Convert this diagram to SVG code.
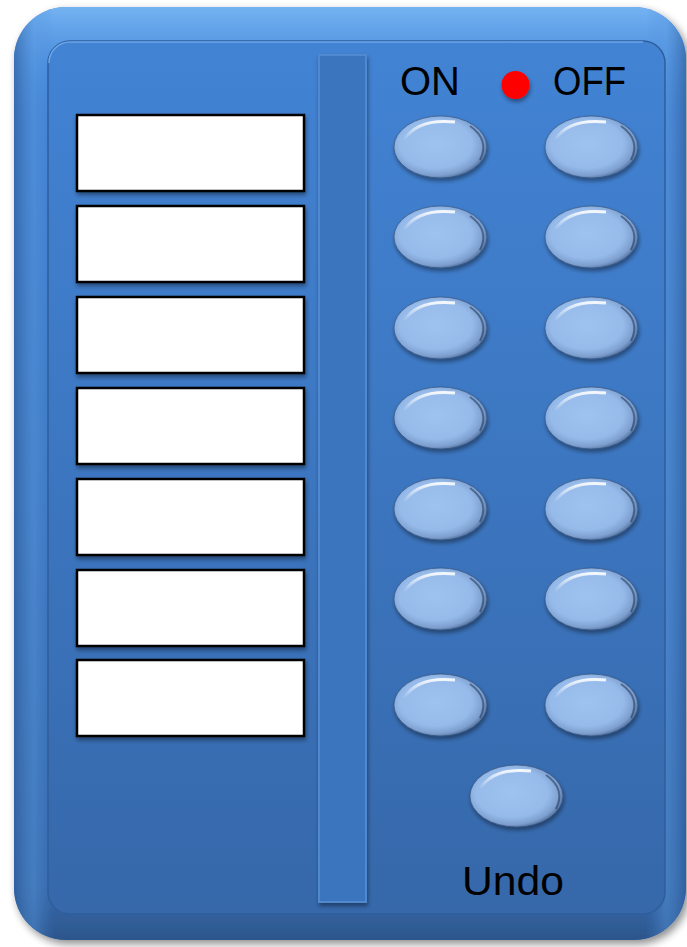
<svg xmlns="http://www.w3.org/2000/svg" width="687" height="947" viewBox="0 0 687 947">
<defs>
<linearGradient id="bodyG" x1="0" y1="0" x2="0" y2="1">
<stop offset="0" stop-color="#4486d8"/>
<stop offset="0.5" stop-color="#3e78c2"/>
<stop offset="1" stop-color="#3566a6"/>
</linearGradient>
<linearGradient id="rimTop" x1="0" y1="0" x2="0" y2="1">
<stop offset="0" stop-color="#7ab8f5" stop-opacity="0.9"/>
<stop offset="0.06" stop-color="#5a9ce6" stop-opacity="0.5"/>
<stop offset="0.12" stop-color="#4a8ad9" stop-opacity="0"/>
<stop offset="0.94" stop-color="#2f5d98" stop-opacity="0"/>
<stop offset="1" stop-color="#2a5184" stop-opacity="0.8"/>
</linearGradient>
<linearGradient id="rimSide" x1="0" y1="0" x2="1" y2="0">
<stop offset="0" stop-color="#2d5a98" stop-opacity="0.6"/>
<stop offset="0.03" stop-color="#5b9be2" stop-opacity="0.4"/>
<stop offset="0.06" stop-color="#4a8ad9" stop-opacity="0"/>
<stop offset="0.94" stop-color="#4a8ad9" stop-opacity="0"/>
<stop offset="0.97" stop-color="#5b9be2" stop-opacity="0.4"/>
<stop offset="1" stop-color="#2d5a98" stop-opacity="0.6"/>
</linearGradient>
<linearGradient id="panelG" x1="0" y1="0" x2="0" y2="1">
<stop offset="0" stop-color="#4283d4"/>
<stop offset="0.5" stop-color="#3c76c0"/>
<stop offset="1" stop-color="#3668aa"/>
</linearGradient>
<radialGradient id="btnG" cx="0.45" cy="0.45" r="0.6">
<stop offset="0" stop-color="#9fc3f0"/>
<stop offset="0.65" stop-color="#96bbea"/>
<stop offset="0.85" stop-color="#7d9fcf"/>
<stop offset="1" stop-color="#3d5a85"/>
</radialGradient>
<linearGradient id="btnHi" x1="0" y1="0" x2="0" y2="1">
<stop offset="0" stop-color="#ffffff" stop-opacity="0.9"/>
<stop offset="1" stop-color="#ffffff" stop-opacity="0"/>
</linearGradient>
<filter id="shadow" x="-10%" y="-10%" width="125%" height="125%">
<feGaussianBlur in="SourceAlpha" stdDeviation="4"/>
<feOffset dx="3" dy="4"/>
<feComponentTransfer><feFuncA type="linear" slope="0.45"/></feComponentTransfer>
<feMerge><feMergeNode/><feMergeNode in="SourceGraphic"/></feMerge>
</filter>
<filter id="smallShadow" x="-20%" y="-20%" width="150%" height="160%">
<feGaussianBlur in="SourceAlpha" stdDeviation="2"/>
<feOffset dx="1" dy="3"/>
<feComponentTransfer><feFuncA type="linear" slope="0.4"/></feComponentTransfer>
<feMerge><feMergeNode/><feMergeNode in="SourceGraphic"/></feMerge>
</filter>
<style>
.slot{fill:#ffffff;stroke:#000000;stroke-width:2.5}
.btn{fill:url(#btnG);stroke:#2e4a72;stroke-width:1;stroke-opacity:0.6}
.hi{fill:none;stroke:url(#btnHi);stroke-width:3}
.rim{fill:none;stroke:#1f3556;stroke-width:2;stroke-opacity:0.55}
.lbl{font-family:"Liberation Sans",Arial,sans-serif;font-size:40px;fill:#000000}
</style>
</defs>

<g id="body" filter="url(#shadow)">
<rect x="14" y="7" width="672" height="933" rx="52" ry="52" fill="url(#bodyG)"/>
<rect x="14" y="7" width="672" height="933" rx="52" ry="52" fill="url(#rimTop)"/>
<rect x="14" y="7" width="672" height="933" rx="52" ry="52" fill="url(#rimSide)"/>
</g>
<g id="panel">
<rect x="48" y="41" width="617" height="873" rx="22" ry="22" fill="url(#panelG)" stroke="#2f5e9c" stroke-width="1.5"/>
<path d="M49 63 A21 21 0 0 1 70 42 H643" fill="none" stroke="#6aa5ea" stroke-width="1.5"/>
</g>

<g id="divider" filter="url(#smallShadow)">
<rect x="319" y="55" width="47" height="847" fill="#3b74bd" stroke="#5189d0" stroke-width="2"/>
</g>

<g id="slots" filter="url(#smallShadow)">
<rect id="slot1" class="slot" x="77" y="115" width="227" height="76"/>
<rect id="slot2" class="slot" x="77" y="206" width="227" height="76"/>
<rect id="slot3" class="slot" x="77" y="297" width="227" height="76"/>
<rect id="slot4" class="slot" x="77" y="388" width="227" height="76"/>
<rect id="slot5" class="slot" x="77" y="479" width="227" height="76"/>
<rect id="slot6" class="slot" x="77" y="570" width="227" height="76"/>
<rect id="slot7" class="slot" x="77" y="660" width="227" height="76"/>
</g>

<g id="labels">
<text class="lbl" x="400" y="95" textLength="60">ON</text>
<text class="lbl" x="553" y="95" textLength="73" lengthAdjust="spacingAndGlyphs">OFF</text>
<text class="lbl" x="462" y="895" font-size="41" textLength="102" lengthAdjust="spacingAndGlyphs">Undo</text>
</g>

<g id="led" filter="url(#smallShadow)">
<circle cx="515.5" cy="85" r="14" fill="#ff0000"/>
</g>

<g id="buttons" filter="url(#smallShadow)">
<g id="on1"><ellipse class="btn" cx="440.5" cy="147" rx="46.5" ry="31"/><path class="hi" d="M404 140 Q418 118 455 122"/><path class="rim" d="M470 126 Q490 140 480 160"/></g>
<g id="off1"><ellipse class="btn" cx="591.5" cy="147" rx="46.5" ry="31"/><path class="hi" d="M555 140 Q569 118 606 122"/><path class="rim" d="M621 126 Q641 140 631 160"/></g>
<g id="on2"><ellipse class="btn" cx="440.5" cy="237" rx="46.5" ry="31"/><path class="hi" d="M404 230 Q418 208 455 212"/><path class="rim" d="M470 216 Q490 230 480 250"/></g>
<g id="off2"><ellipse class="btn" cx="591.5" cy="237" rx="46.5" ry="31"/><path class="hi" d="M555 230 Q569 208 606 212"/><path class="rim" d="M621 216 Q641 230 631 250"/></g>
<g id="on3"><ellipse class="btn" cx="440.5" cy="328" rx="46.5" ry="31"/><path class="hi" d="M404 321 Q418 299 455 303"/><path class="rim" d="M470 307 Q490 321 480 341"/></g>
<g id="off3"><ellipse class="btn" cx="591.5" cy="328" rx="46.5" ry="31"/><path class="hi" d="M555 321 Q569 299 606 303"/><path class="rim" d="M621 307 Q641 321 631 341"/></g>
<g id="on4"><ellipse class="btn" cx="440.5" cy="418" rx="46.5" ry="31"/><path class="hi" d="M404 411 Q418 389 455 393"/><path class="rim" d="M470 397 Q490 411 480 431"/></g>
<g id="off4"><ellipse class="btn" cx="591.5" cy="418" rx="46.5" ry="31"/><path class="hi" d="M555 411 Q569 389 606 393"/><path class="rim" d="M621 397 Q641 411 631 431"/></g>
<g id="on5"><ellipse class="btn" cx="440.5" cy="509" rx="46.5" ry="31"/><path class="hi" d="M404 502 Q418 480 455 484"/><path class="rim" d="M470 488 Q490 502 480 522"/></g>
<g id="off5"><ellipse class="btn" cx="591.5" cy="509" rx="46.5" ry="31"/><path class="hi" d="M555 502 Q569 480 606 484"/><path class="rim" d="M621 488 Q641 502 631 522"/></g>
<g id="on6"><ellipse class="btn" cx="440.5" cy="599" rx="46.5" ry="31"/><path class="hi" d="M404 592 Q418 570 455 574"/><path class="rim" d="M470 578 Q490 592 480 612"/></g>
<g id="off6"><ellipse class="btn" cx="591.5" cy="599" rx="46.5" ry="31"/><path class="hi" d="M555 592 Q569 570 606 574"/><path class="rim" d="M621 578 Q641 592 631 612"/></g>
<g id="on7"><ellipse class="btn" cx="440.5" cy="705" rx="46.5" ry="31"/><path class="hi" d="M404 698 Q418 676 455 680"/><path class="rim" d="M470 684 Q490 698 480 718"/></g>
<g id="off7"><ellipse class="btn" cx="591.5" cy="705" rx="46.5" ry="31"/><path class="hi" d="M555 698 Q569 676 606 680"/><path class="rim" d="M621 684 Q641 698 631 718"/></g>
<g id="undo"><ellipse class="btn" cx="516.5" cy="796" rx="46.5" ry="31"/><path class="hi" d="M480 789 Q494 767 531 771"/><path class="rim" d="M546 775 Q566 789 556 809"/></g>
</g>
</svg>
